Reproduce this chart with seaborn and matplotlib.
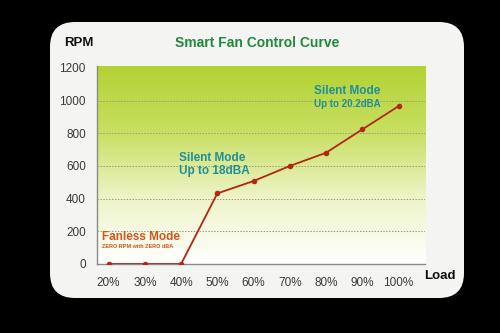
import numpy as np
import pandas as pd
import seaborn as sns
import matplotlib.pyplot as plt
from matplotlib.patches import FancyBboxPatch
from matplotlib.colors import LinearSegmentedColormap

load_pct = [20, 30, 40, 50, 60, 70, 80, 90, 100]
rpm = [0, 0, 0, 432, 508, 600, 681, 824, 966]
x_tick_labels = ["20%", "30%", "40%", "50%", "60%", "70%", "80%", "90%", "100%"]
y_ticks = [0, 200, 400, 600, 800, 1000, 1200]

df = pd.DataFrame({"Load": load_pct, "RPM": rpm})

sns.set_theme(style="white")
plt.rcParams['font.family'] = ['Liberation Sans', 'DejaVu Sans']

W, H = 500, 333
fig = plt.figure(figsize=(5, 3.33), dpi=100, facecolor="black")

# card
card = FancyBboxPatch((50 / W, 1 - 298 / H), (464 - 50) / W, (298 - 22) / H,
                      boxstyle="round,pad=0,rounding_size=0.05",
                      transform=fig.transFigure, facecolor="#f4f4f2",
                      edgecolor="none", mutation_aspect=W / H, zorder=-5)
fig.patches.append(card)

ax = fig.add_axes([97 / W, 1 - 264 / H, (425 - 97) / W, (264 - 66) / H])
ax.set_facecolor("none")
ax.set_zorder(2)

# gradient background
cmap = LinearSegmentedColormap.from_list("g", ["#ffffff", "#eef4c8", "#c8df62", "#b3d233"])
grad = np.linspace(0, 1, 256).reshape(-1, 1)
ax.imshow(grad, aspect="auto", cmap=cmap, origin="lower",
          extent=[0, 1, 0, 1], transform=ax.transAxes, zorder=0)

for yv in [200, 400, 600, 800, 1000]:
    ax.axhline(yv, color="#9a9a80", lw=0.7, ls=(0, (1.5, 1.5)), zorder=1)

sns.lineplot(data=df, x="Load", y="RPM", ax=ax, color="#b3260f", lw=1.3,
             marker="o", markersize=4, markeredgewidth=0, zorder=3)

ax.set_xlim(16.8, 107.3)
ax.set_ylim(0, 1212)
ax.set_xticks(load_pct)
ax.set_xticklabels(x_tick_labels)
ax.set_yticks(y_ticks)
ax.set_yticklabels([str(v) for v in y_ticks])
ax.tick_params(axis="x", direction="in", length=3, width=0.8, color="#888888",
               labelsize=8.5, labelcolor="#3a3a3a", pad=9)
ax.tick_params(axis="y", length=0, labelsize=8.5, labelcolor="#3a3a3a", pad=8)
ax.set_xlabel("")
ax.set_ylabel("")
for s in ["top", "right"]:
    ax.spines[s].set_visible(False)
for s in ["left", "bottom"]:
    ax.spines[s].set_color("#8a8a8a")
    ax.spines[s].set_linewidth(1.0)

def ftext(x, y, s, **kw):
    fig.text(x / W, 1 - y / H, s, zorder=5, **kw)

ftext(64, 43, "RPM", fontsize=9.5, fontweight="bold", color="#111111", va="center")
ftext(257, 43, "Smart Fan Control Curve", fontsize=10, fontweight="bold",
      color="#1e8a3c", va="center", ha="center")
ftext(314, 91, "Silent Mode", fontsize=8.5, fontweight="bold", color="#1f8f9c", va="center")
ftext(314, 104, "Up to 20.2dBA", fontsize=7, fontweight="bold", color="#1f8f9c", va="center")
ftext(179, 158, "Silent Mode", fontsize=8.5, fontweight="bold", color="#1f8f9c", va="center")
ftext(179, 171, "Up to 18dBA", fontsize=8.5, fontweight="bold", color="#1f8f9c", va="center")
ftext(102, 237, "Fanless Mode", fontsize=8.5, fontweight="bold", color="#d2541a", va="center")
ftext(102, 247, "ZERO RPM with ZERO dBA", fontsize=4, fontweight="bold", color="#d2541a", va="center")
ftext(424, 276, "Load", fontsize=9.5, fontweight="bold", color="#111111", va="center")

fig.savefig("out.png", dpi=100, facecolor="black")
